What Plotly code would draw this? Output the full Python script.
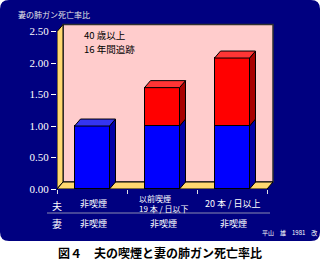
import plotly.graph_objects as go

# Husband's smoking category (two text lines each) and the wife's status
husband_labels = [["非喫煙"], ["以前喫煙", "19 本 / 日以下"], ["20 本 / 日以上"]]
wife_labels = ["非喫煙", "非喫煙", "非喫煙"]
# Lung cancer mortality ratio of wives: reference part (blue) and total
reference_part = [1.00, 1.00, 1.00]
total_ratio = [1.00, 1.61, 2.08]
y_ticks = [0.0, 0.5, 1.0, 1.5, 2.0, 2.5]
y_tick_text = ["0.00", "0.50", "1.00", "1.50", "2.00", "2.50"]

# ---- figure geometry (pixels) ----
W, H = 320, 261
PL, PT, PW, PH = 57, 19, 220, 170
UNIT_X = 70.0                      # pixels per category
Y_MAX = 2.7
UNIT_Y = PH / Y_MAX
DX = 6 / UNIT_X                    # 3D depth offset in data units
DY = 7 / UNIT_Y
BAR_W = 0.5
NAVY = "#000080"
PINK = "#FFCCCC"
YELLOW = "#FFD870"


def paper(px, py):
    return (px - PL) / PW, (PT + PH - py) / PH


centers = [i + 0.5 for i in range(len(total_ratio))]
excess = [t - r for t, r in zip(total_ratio, reference_part)]

fig = go.Figure()

# front faces of the stacked bars
fig.add_trace(go.Bar(x=centers, y=reference_part, width=BAR_W,
                     marker=dict(color="#0000FF", line=dict(color="black", width=1)),
                     hoverinfo="skip"))
fig.add_trace(go.Bar(x=centers, y=excess, width=BAR_W,
                     marker=dict(color="#FF0000", line=dict(color="black", width=1)),
                     hoverinfo="skip"))


def faces(segments):
    sx, sy, tx, ty = [], [], [], []
    for c, y0, y1, top in segments:
        r = c + BAR_W / 2
        l = c - BAR_W / 2
        sx += [r, r + DX, r + DX, r, r, None]
        sy += [y0, y0 + DY, y1 + DY, y1, y0, None]
        if top:
            tx += [l, l + DX, r + DX, r, l, None]
            ty += [y1, y1 + DY, y1 + DY, y1, y1, None]
    return sx, sy, tx, ty


blue_segs = [(c, 0, r, e <= 0) for c, r, e in zip(centers, reference_part, excess)]
red_segs = [(c, r, r + e, True) for c, r, e in zip(centers, reference_part, excess) if e > 0]

for segs, side_col, top_col in [(blue_segs, "#0000A8", "#3535F0"),
                                (red_segs, "#A80000", "#FF3535")]:
    sx, sy, tx, ty = faces(segs)
    fig.add_trace(go.Scatter(x=sx, y=sy, mode="lines", fill="toself",
                             fillcolor=side_col, line=dict(color="black", width=1),
                             hoverinfo="skip"))
    if tx:
        fig.add_trace(go.Scatter(x=tx, y=ty, mode="lines", fill="toself",
                                 fillcolor=top_col, line=dict(color="black", width=1),
                                 hoverinfo="skip"))

n = len(total_ratio)
wall_top = y_ticks[-1]
shapes = []

# navy rounded panel behind the chart
x0, y0 = paper(0, 0)
x1, y1 = paper(W, 241)
rx, ry = 9 / PW, 9 / PH
path = (f"M {x0 + rx},{y0} L {x1 - rx},{y0} Q {x1},{y0} {x1},{y0 - ry} "
        f"L {x1},{y1 + ry} Q {x1},{y1} {x1 - rx},{y1} L {x0 + rx},{y1} "
        f"Q {x0},{y1} {x0},{y1 + ry} L {x0},{y0 - ry} Q {x0},{y0} {x0 + rx},{y0} Z")
shapes.append(dict(type="path", xref="paper", yref="paper", path=path,
                   fillcolor=NAVY, line=dict(width=0), layer="below"))

# back wall, side wall and floor of the 3D frame
shapes.append(dict(type="path", xref="x", yref="y", layer="below",
                   path=f"M {DX},{DY} L {n + DX},{DY} L {n + DX},{wall_top + DY} L {DX},{wall_top + DY} Z",
                   fillcolor=PINK, line=dict(color="#303030", width=1.5)))
shapes.append(dict(type="path", xref="x", yref="y", layer="below",
                   path=f"M 0,0 L {DX},{DY} L {DX},{wall_top + DY} L 0,{wall_top} Z",
                   fillcolor=YELLOW, line=dict(color="black", width=1)))
shapes.append(dict(type="path", xref="x", yref="y", layer="below",
                   path=f"M 0,0 L {n},0 L {n + DX},{DY} L {DX},{DY} Z",
                   fillcolor=YELLOW, line=dict(color="black", width=1)))

# separator between the husband and wife rows
sx0, sy0 = paper(47, 213)
sx1, _ = paper(270, 213)
shapes.append(dict(type="line", xref="paper", yref="paper", x0=sx0, x1=sx1,
                   y0=sy0, y1=sy0, line=dict(color="#8A8AB0", width=1)))

JP = "Noto Sans CJK JP"
ann = []


def text(px, py, s, size, color="white", xanchor="center", yanchor="middle", align="center"):
    ax, ay = paper(px, py)
    ann.append(dict(x=ax, y=ay, xref="paper", yref="paper", text=s, showarrow=False,
                    xanchor=xanchor, yanchor=yanchor, align=align, borderpad=0,
                    font=dict(family=JP, size=size, color=color)))


text(17, 14, "妻の肺ガン死亡率比", 8, color="#E8E8E8", xanchor="left")
text(83, 34.5, "40 歳以上", 9.5, color="black", xanchor="left")
text(83, 48.5, "16 年間追跡", 9.5, color="black", xanchor="left")
text(57, 205, "夫", 10)
text(57, 223, "妻", 10)

for c, lines in zip(centers, husband_labels):
    cx = PL + c * UNIT_X
    if len(lines) == 1:
        text(cx + 1, 203, lines[0], 9)
    else:
        text(138, 203, "<br>".join(lines), 8, xanchor="left", align="left")
for c, s in zip(centers, wife_labels):
    text(PL + c * UNIT_X + 1, 223, s, 9)

text(318, 232, "平山　雄　1981　改", 6, xanchor="right")
text(160, 252, "<b>図４　夫の喫煙と妻の肺ガン死亡率比</b>", 12, color="black")

fig.update_layout(
    width=W, height=H, autosize=False,
    margin=dict(l=PL, r=W - PL - PW, t=PT, b=H - PT - PH, pad=0),
    paper_bgcolor="white", plot_bgcolor="rgba(0,0,0,0)",
    barmode="stack", bargap=0, showlegend=False,
    shapes=shapes, annotations=ann,
    xaxis=dict(range=[0, PW / UNIT_X], showgrid=False, zeroline=False, showline=False,
               tickmode="array", tickvals=list(range(n + 1)), showticklabels=False,
               ticks="outside", ticklen=4, tickcolor="#E0E0E0", tickwidth=1, fixedrange=True),
    yaxis=dict(range=[0, Y_MAX], showgrid=False, zeroline=False, showline=False,
               tickmode="array", tickvals=y_ticks, ticktext=y_tick_text,
               ticks="outside", ticklen=5, tickcolor="white", tickwidth=1,
               tickfont=dict(family="Liberation Serif", size=11, color="white"),
               fixedrange=True),
)

fig.write_html("out.html", config={"displayModeBar": False})
